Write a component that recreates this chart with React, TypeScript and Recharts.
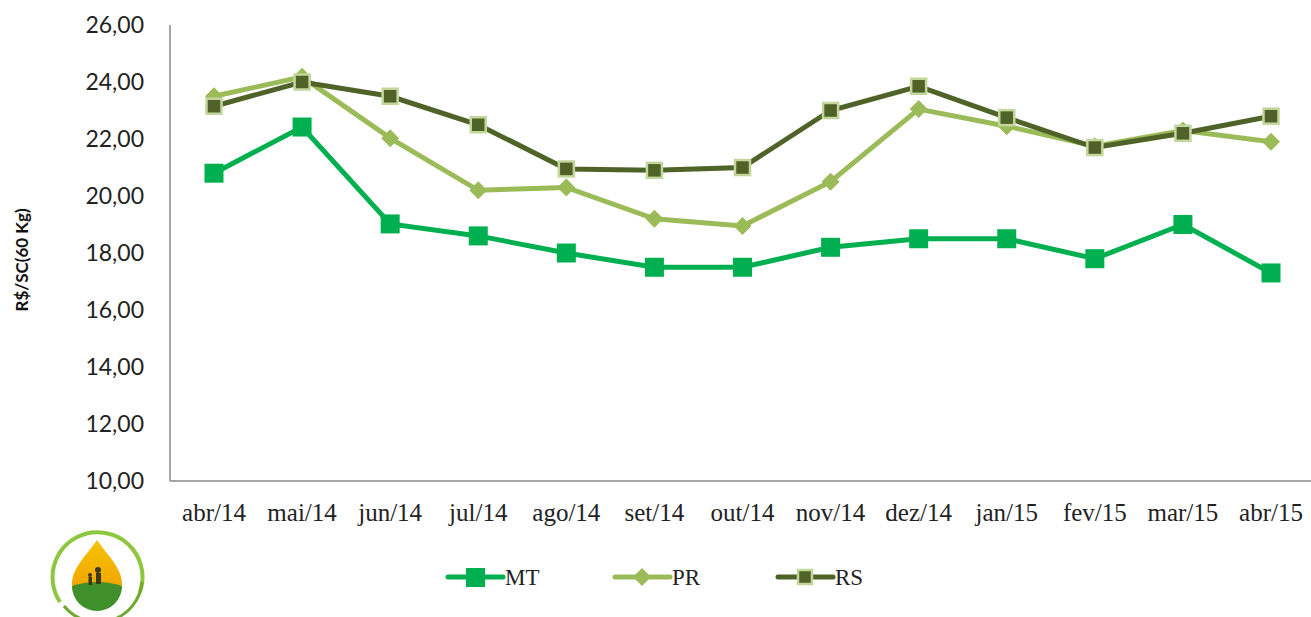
import React from 'react'
import { LineChart, Line, XAxis, YAxis } from 'recharts'

const months = [
  'abr/14', 'mai/14', 'jun/14', 'jul/14', 'ago/14', 'set/14', 'out/14',
  'nov/14', 'dez/14', 'jan/15', 'fev/15', 'mar/15', 'abr/15',
]
const mt = [20.8, 22.42, 19.02, 18.6, 18.0, 17.5, 17.5, 18.2, 18.5, 18.5, 17.8, 19.0, 17.3]
const pr = [23.5, 24.18, 22.03, 20.2, 20.3, 19.2, 18.95, 20.5, 23.05, 22.45, 21.75, 22.3, 21.9]
const rs = [23.15, 24.0, 23.5, 22.5, 20.95, 20.9, 21.0, 23.0, 23.85, 22.75, 21.7, 22.2, 22.8]
const yTicks = [10, 12, 14, 16, 18, 20, 22, 24, 26]

const data = months.map((m, i) => ({ month: m, MT: mt[i], PR: pr[i], RS: rs[i] }))

const COLORS = { MT: '#00B050', PR: '#9BBB59', RS: '#4F6228' }
const SERIF = '"Liberation Serif", "Times New Roman", serif'

const SquareDot = ({ cx, cy }: any) => (
  <rect x={cx - 9.5} y={cy - 9.5} width={19} height={19} fill={COLORS.MT} />
)
const DiamondDot = ({ cx, cy }: any) => (
  <path d={`M${cx},${cy - 9} L${cx + 9},${cy} L${cx},${cy + 9} L${cx - 9},${cy} Z`} fill={COLORS.PR} />
)
const RsDot = ({ cx, cy }: any) => (
  <rect x={cx - 7.5} y={cy - 7.5} width={15} height={15} fill={COLORS.RS} stroke="#C3D69B" strokeWidth={2.5} />
)

// legend drawn by hand so it doesn't steal height from the plot
const ChartLegend = () => {
  const items = [
    { key: 'MT', left: 448 },
    { key: 'PR', left: 615 },
    { key: 'RS', left: 778 },
  ]
  return (
    <svg width={1311} height={40} style={{ position: 'absolute', left: 0, top: 557 }}>
      {items.map(it => {
        const x = it.left
        const c = (COLORS as any)[it.key]
        return (
          <g key={it.key}>
            <line x1={x} y1={20} x2={x + 55} y2={20} stroke={c} strokeWidth={5} strokeLinecap="round" />
            {it.key === 'MT' && <rect x={x + 18} y={11} width={19} height={19} fill={c} />}
            {it.key === 'PR' && (
              <path d={`M${x + 27},${11} L${x + 36},${20} L${x + 27},${29} L${x + 18},${20} Z`} fill={c} />
            )}
            {it.key === 'RS' && (
              <rect x={x + 20} y={13} width={14} height={14} fill={c} stroke="#C3D69B" strokeWidth={2.5} />
            )}
            <text x={x + 57} y={28} style={{ fontFamily: SERIF, fontSize: 23 }} fill="#222">
              {it.key}
            </text>
          </g>
        )
      })}
    </svg>
  )
}

const Logo = () => (
  <svg width={110} height={100} style={{ position: 'absolute', left: 42, top: 520 }}>
    <defs>
      <linearGradient id="drop" x1="0" y1="0" x2="0" y2="1">
        <stop offset="0%" stopColor="#F6C400" />
        <stop offset="60%" stopColor="#F2A900" />
        <stop offset="100%" stopColor="#E88A00" />
      </linearGradient>
    </defs>
    <path d="M18,82 A45,45 0 1,1 98,72" fill="none" stroke="#8DC63F" strokeWidth={4} />
    <path d="M22,86 A44,44 0 0,0 100,62" fill="none" stroke="#6FA82E" strokeWidth={3} />
    <path d="M55,20 C66,36 80,48 80,64 A25,25 0 0,1 30,64 C30,48 44,36 55,20 Z" fill="url(#drop)" />
    <path d="M30,66 Q55,58 80,66 A25,25 0 0,1 30,66 Z" fill="#3F8F2A" />
    <circle cx={56} cy={50} r={3} fill="#3a3a1a" />
    <rect x={54} y={53} width={5} height={11} fill="#3a3a1a" />
    <circle cx={48} cy={55} r={2} fill="#3a3a1a" />
    <rect x={46.5} y={57} width={3.5} height={8} fill="#3a3a1a" />
  </svg>
)

export default function App() {
  return (
    <div style={{ position: 'absolute', left: 0, top: 0, width: 1311, height: 617, background: '#fff' }}>
      <LineChart
        width={1311}
        height={617}
        data={data}
        margin={{ top: 25, right: 0, left: 0, bottom: 106 }}
      >
        <XAxis
          dataKey="month"
          interval={0}
          padding={{ left: 44, right: 40 }}
          tickLine={false}
          tickSize={0}
          tickMargin={22}
          height={30}
          axisLine={{ stroke: '#A6A6A6', strokeWidth: 2 }}
          tick={{ fontSize: 25, fill: '#222', fontFamily: SERIF }}
        />
        <YAxis
          domain={[10, 26]}
          ticks={yTicks}
          width={170}
          tickLine={false}
          tickSize={0}
          tickMargin={26}
          axisLine={{ stroke: '#A6A6A6', strokeWidth: 2 }}
          tickFormatter={(v: number) => v.toFixed(2).replace('.', ',')}
          tick={{ fontSize: 23, fill: '#222', fontFamily: 'Lato, sans-serif' }}
          label={{
            content: () => (
              <text
                x={28}
                y={260}
                transform="rotate(-90 28 260)"
                textAnchor="middle"
                fontFamily="Lato, sans-serif"
                fontWeight="bold"
                fontSize={17}
                fill="#111"
              >
                R$/SC(60 Kg)
              </text>
            ),
          }}
        />
        <Line dataKey="MT" stroke={COLORS.MT} strokeWidth={5} dot={<SquareDot />} isAnimationActive={false} />
        <Line dataKey="PR" stroke={COLORS.PR} strokeWidth={5} dot={<DiamondDot />} isAnimationActive={false} />
        <Line dataKey="RS" stroke={COLORS.RS} strokeWidth={5} dot={<RsDot />} isAnimationActive={false} />
      </LineChart>
      <ChartLegend />
      <Logo />
    </div>
  )
}
